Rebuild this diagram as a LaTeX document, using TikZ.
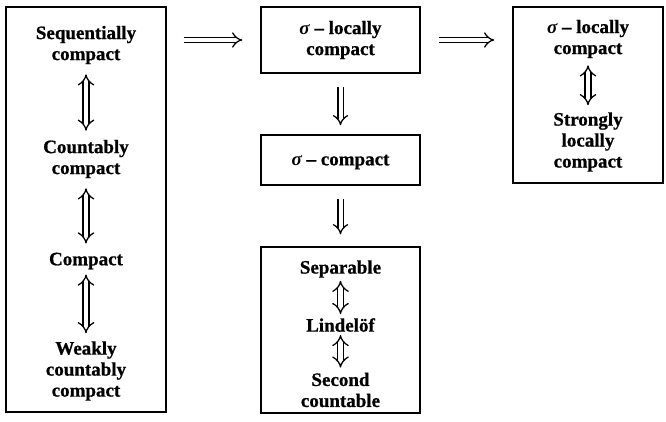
\documentclass[tikz,border=0pt]{standalone}
\usepackage{fontspec}
\setmainfont{Liberation Serif}[BoldFeatures={FakeBold=0.8}]
\usetikzlibrary{arrows.meta}
\tikzset{
  frame/.style={draw, line width=1.3pt, inner sep=0pt},
  term/.style={font=\fontsize{19}{21}\selectfont\bfseries, align=center, inner sep=0pt},
  dbl/.style={draw=black, line width=1.3pt, double=white, double distance=4pt, -{Implies[scale=1.15]}},
  dbltwo/.style={draw=black, line width=1.3pt, double=white, double distance=4.5pt, {Implies[scale=1.15]}-{Implies[scale=1.15]}},
}
\newcommand{\sig}{{\itshape σ}~–~}
\begin{document}
\begin{tikzpicture}[x=1pt,y=-1pt]
\useasboundingbox (0,0) rectangle (666,421);

% boxes
\node[frame, minimum width=160pt, minimum height=405pt] (L) at (86,209.5) {};
\node[frame, minimum width=159pt, minimum height=66pt] (M1) at (340.5,40) {};
\node[frame, minimum width=159pt, minimum height=50pt] (M2) at (340.5,160) {};
\node[frame, minimum width=159pt, minimum height=166pt] (M3) at (340.5,330) {};
\node[frame, minimum width=150pt, minimum height=176pt] (R) at (588,95) {};

% left column
\node[term] (seq) at (86,45) {Sequentially\\compact};
\node[term] (cnt) at (86,159) {Countably\\compact};
\node[term] (cmp) at (86,261) {Compact};
\node[term] (wcc) at (86,371) {Weakly\\countably\\compact};
\draw[dbltwo, shorten <=10pt, shorten >=9pt] (seq) -- (cnt);
\draw[dbltwo, shorten <=10pt, shorten >=9pt] (cnt) -- (cmp);
\draw[dbltwo, shorten <=5pt, shorten >=8pt] (cmp) -- (wcc);

% middle column
\node[term] (slc) at (340.5,40) {\sig locally\\compact};
\node[term] (sc) at (340.5,162) {\sig compact};
\node[term] (sep) at (340.5,269) {Separable};
\node[term] (lin) at (340.5,325) {Lindelöf};
\node[term] (sec) at (340.5,390) {Second\\countable};
\draw[dbltwo, shorten <=3pt, shorten >=4pt] (sep) -- (lin);
\draw[dbltwo, shorten <=3pt, shorten >=5pt] (lin) -- (sec);
\draw[dbl, shorten <=13pt, shorten >=9pt] (M1) -- (M2);
\draw[dbl, shorten <=13pt, shorten >=12pt] (M2) -- (M3);

% right column
\node[term] (rslc) at (588,39) {\sig locally\\compact};
\node[term] (slc2) at (588,142) {Strongly\\locally\\compact};
\draw[dbltwo, shorten <=7pt, shorten >=7pt] (rslc) -- (slc2);

% implications between columns
\coordinate (a1) at (L.east |- 0,40);
\coordinate (b1) at (M1.west |- 0,40);
\draw[dbl, shorten <=17pt, shorten >=18pt] (a1) -- (b1);
\coordinate (a2) at (M1.east |- 0,40);
\coordinate (b2) at (R.west |- 0,40);
\draw[dbl, shorten <=18pt, shorten >=18pt] (a2) -- (b2);
\end{tikzpicture}
\end{document}
